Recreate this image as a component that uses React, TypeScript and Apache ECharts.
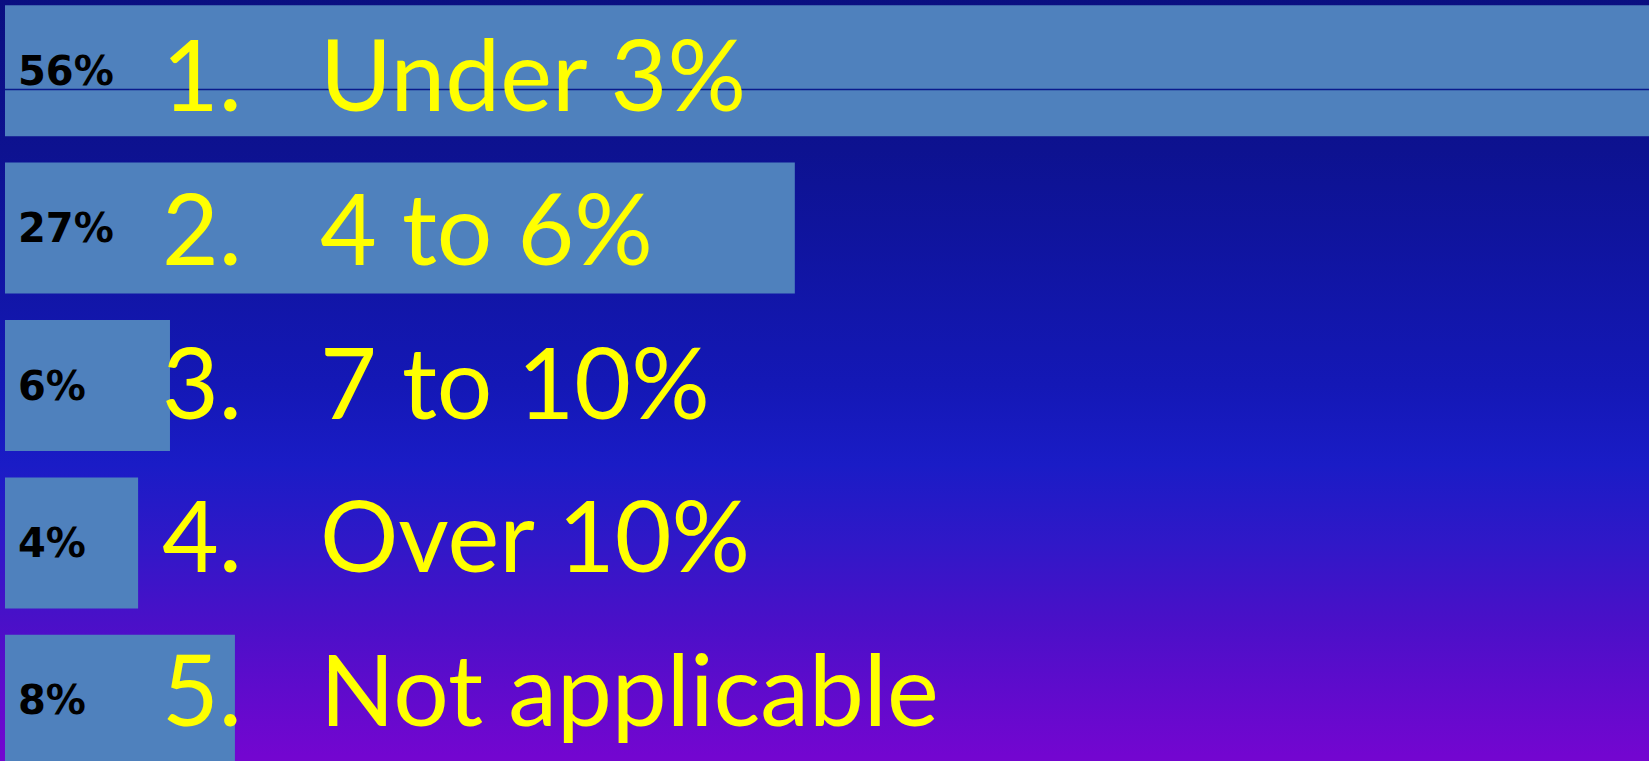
import React, { useEffect, useRef } from "react";
import * as echarts from "echarts";

const numbers = ["1.", "2.", "3.", "4.", "5."];
const categories = ["Under 3%", "4 to 6%", "7 to 10%", "Over 10%", "Not applicable"];
const values = [56.2, 27, 5.64, 4.55, 7.86];
const percentLabels = ["56%", "27%", "6%", "4%", "8%"];

export default function App() {
  const ref = useRef<HTMLDivElement>(null);
  useEffect(() => {
    if (!ref.current) return;
    const chart = echarts.init(ref.current, null, { renderer: "svg" });
    chart.setOption({
      animation: false,
      backgroundColor: new echarts.graphic.LinearGradient(0, 0, 0, 1, [
        { offset: 0, color: "#0a0f80" },
        { offset: 0.2, color: "#0d1290" },
        { offset: 0.5, color: "#1418b6" },
        { offset: 0.6, color: "#1a1cc6" },
        { offset: 0.7, color: "#3018c8" },
        { offset: 0.8, color: "#4a10c8" },
        { offset: 0.97, color: "#7306d0" },
        { offset: 1, color: "#7606d0" },
      ]),
      grid: [
        { left: 5, right: 0, top: 0, bottom: 0, containLabel: false },
        { left: 5, right: 0, top: 4.3, height: 768.75, containLabel: false },
      ],
      xAxis: [
        { type: "value", gridIndex: 0, min: 0, max: 56.2, show: false },
        { type: "value", gridIndex: 1, min: 0, max: 56.2, show: false },
      ],
      yAxis: [
        {
          type: "category",
          gridIndex: 0,
          inverse: true,
          data: categories,
          axisLine: { show: false },
          axisTick: { show: false },
          splitLine: { show: false },
          axisLabel: { show: false },
        },
        {
          type: "category",
          gridIndex: 1,
          inverse: true,
          data: categories,
          z: 10,
          axisLine: { show: false },
          axisTick: { show: false },
          splitLine: { show: false },
          axisLabel: {
            inside: true,
            margin: 157,
            formatter: (v: string, i: number) => `{n|${numbers[i]}}{t|${v}}`,
            rich: {
              n: {
                width: 158,
                fontSize: 98,
                fontFamily: "Lato",
                color: "#ffff00",
              },
              t: {
                fontSize: 98,
                fontFamily: "Lato",
                color: "#ffff00",
              },
            },
          },
        },
      ],
      graphic: [
        {
          type: "line",
          z: 5,
          shape: { x1: 5, y1: 97.5, x2: 1649, y2: 97.5 },
          style: { stroke: "#0a1a8c", lineWidth: 1.5 },
        },
      ],
      series: [
        {
          type: "bar",
          xAxisIndex: 0,
          yAxisIndex: 0,
          data: values,
          barWidth: 131,
          itemStyle: { color: "#4f81bd" },
          label: {
            show: true,
            position: "insideLeft",
            distance: 13,
            formatter: (p: any) => percentLabels[p.dataIndex],
            fontFamily: "DejaVu Sans",
            fontWeight: "bold",
            fontSize: 40,
            color: "#000000",
          },
        },
      ],
    });
    return () => chart.dispose();
  }, []);
  return (
    <div
      ref={ref}
      style={{ position: "fixed", left: 0, top: -8, width: 1649, height: 787 }}
    />
  );
}
